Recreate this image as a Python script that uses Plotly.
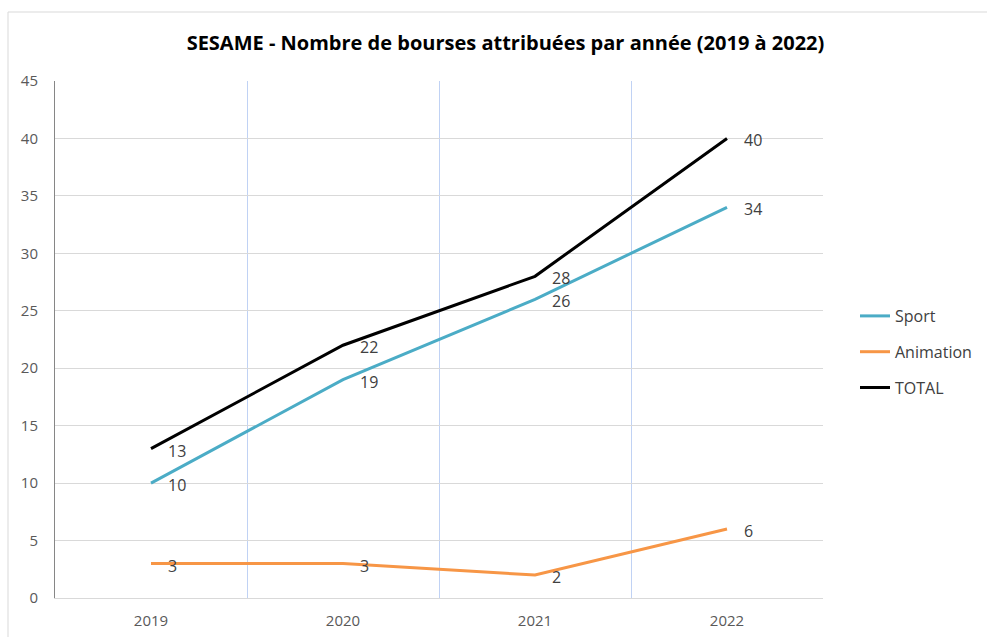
import plotly.graph_objects as go

years = ["2019", "2020", "2021", "2022"]
sport = [10, 19, 26, 34]
animation = [3, 3, 2, 6]
total = [13, 22, 28, 40]
y_ticks = [0, 5, 10, 15, 20, 25, 30, 35, 40, 45]
title = "SESAME - Nombre de bourses attribuées par année (2019 à 2022)"

series = [
    ("Sport", sport, "#4bacc6"),
    ("Animation", animation, "#f79646"),
    ("TOTAL", total, "#000000"),
]

FONT = "Open Sans"
fig = go.Figure()
annotations = []
for name, vals, color in series:
    fig.add_trace(go.Scatter(
        x=years, y=vals, name=name, mode="lines",
        line=dict(color=color, width=3),
        legendgroup=name,
    ))
    for i, yv in enumerate(vals):
        annotations.append(dict(
            x=i, y=yv, xref="x", yref="y", text=str(yv), showarrow=False,
            xanchor="left", yanchor="middle", xshift=15, yshift=-2,
            font=dict(family=FONT, size=16, color="#404040"),
        ))

fig.update_layout(
    width=987, height=637,
    margin=dict(l=55, r=164, t=81, b=39, autoexpand=False),
    paper_bgcolor="white", plot_bgcolor="white",
    title=dict(text="<b>" + title + "</b>", x=(183 + 828) / 2 / 987, xref="container",
               xanchor="center", y=1 - 43 / 637, yanchor="middle",
               font=dict(family=FONT, size=20, color="#000000")),
    xaxis=dict(type="category", tickson="boundaries", showgrid=True,
               gridcolor="#c0d2f4", gridwidth=1, ticks="", automargin=False,
               showline=True, linecolor="#d9d9d9", linewidth=1,
               range=[-0.5, 3.5], ticklabelstandoff=9,
               tickfont=dict(family=FONT, size=15, color="#595959")),
    yaxis=dict(range=[0, 45], tickvals=y_ticks, showgrid=True, automargin=False,
               gridcolor="#d9d9d9", gridwidth=1, zeroline=False,
               showline=True, linecolor="#868686", linewidth=1,
               ticks="", ticklabelstandoff=13,
               tickfont=dict(family=FONT, size=15, color="#595959")),
    legend=dict(x=855 / 987, xref="container", xanchor="left",
                y=(637 - 352) / 637, yref="container", yanchor="middle",
                traceorder="grouped", tracegroupgap=12,
                font=dict(family=FONT, size=16, color="#404040"),
                bgcolor="rgba(0,0,0,0)"),
    annotations=annotations,
    shapes=[dict(type="rect", xref="paper", yref="paper",
                 x0=(8 - 55) / 768, x1=2, y0=-1, y1=(598 - 12) / 517,
                 line=dict(color="#d9d9d9", width=1), fillcolor="rgba(0,0,0,0)",
                 layer="below")],
)

fig.write_html("out.html", config={"displayModeBar": False},
               post_script="document.body.style.margin='0';")
